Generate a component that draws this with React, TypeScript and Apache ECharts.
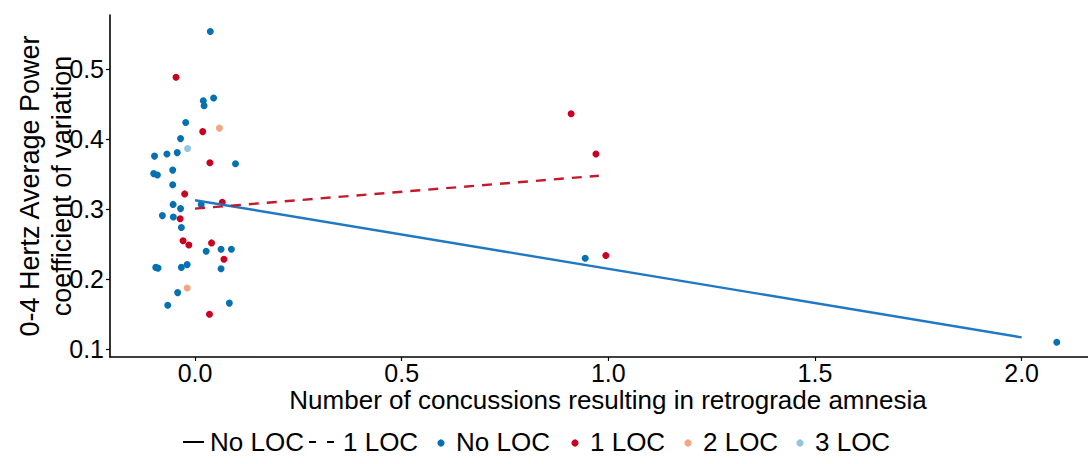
import React, { useEffect, useRef } from "react";
import * as echarts from "echarts";

// Scatter points: [concussions with retrograde amnesia (jittered), 0-4 Hz power CV]
const noLocPoints: [number, number][] = [
  [0.037, 0.554], [0.02, 0.455], [0.045, 0.459], [0.022, 0.448], [-0.0225, 0.424],
  [-0.035, 0.401], [-0.098, 0.376], [-0.068, 0.379], [-0.043, 0.381], [0.098, 0.365],
  [-0.054, 0.356], [-0.1, 0.351], [-0.091, 0.349], [-0.054, 0.335], [-0.053, 0.307],
  [-0.035, 0.301], [-0.079, 0.291], [-0.0525, 0.289], [-0.033, 0.274], [0.015, 0.307],
  [0.027, 0.24], [0.063, 0.243], [0.088, 0.243], [-0.095, 0.217], [-0.0895, 0.216],
  [-0.033, 0.217], [-0.019, 0.221], [0.063, 0.215], [-0.042, 0.181], [-0.066, 0.163],
  [0.083, 0.166], [0.944, 0.23], [2.085, 0.11],
];
const oneLocPoints: [number, number][] = [
  [-0.046, 0.4886], [0.0186, 0.411], [0.036, 0.3666], [-0.025, 0.322], [-0.036, 0.2866],
  [0.066, 0.31], [-0.029, 0.255], [-0.015, 0.249], [0.04, 0.252], [0.07, 0.2286],
  [0.035, 0.15], [0.91, 0.4366], [0.97, 0.379], [0.994, 0.234],
];
const twoLocPoints: [number, number][] = [
  [0.059, 0.416], [-0.019, 0.1876],
];
const threeLocPoints: [number, number][] = [
  [-0.018, 0.387],
];

// Linear fits per LOC group
const noLocFit: [number, number][] = [[0, 0.313], [2, 0.117]];
const oneLocFit: [number, number][] = [[0, 0.301], [0.977, 0.348]];

const xTicks = [0, 0.5, 1, 1.5, 2];
const yTicks = [0.1, 0.2, 0.3, 0.4, 0.5];

const C_NO = "#0571b0";
const C_ONE = "#ca0020";
const C_TWO = "#f4a582";
const C_THREE = "#92c5de";
const FONT = "Liberation Sans, Arial, sans-serif";

export default function App() {
  const ref = useRef<HTMLDivElement>(null);

  useEffect(() => {
    if (!ref.current) return;
    const chart = echarts.init(ref.current, null, { renderer: "svg" });

    const axisCommon = {
      type: "value" as const,
      splitLine: { show: false },
      axisLine: { show: true, onZero: false, lineStyle: { color: "#000", width: 1.6 } },
      axisTick: { show: true, length: 4, lineStyle: { color: "#000", width: 1.2 } },
    };

    const scatter = (name: string, data: [number, number][], color: string) => ({
      name,
      type: "scatter",
      data,
      symbolSize: 7,
      itemStyle: { color, opacity: 1 },
      z: 2,
    });

    const legendY = 442;
    const legendText = (x: number, text: string) => ({
      type: "text",
      x,
      y: legendY,
      style: {
        text,
        fontSize: 26,
        lineHeight: 26,
        fontFamily: FONT,
        fill: "#000",
        align: "left",
        verticalAlign: "middle",
      },
    });
    const legendDot = (x: number, color: string) => ({
      type: "circle",
      shape: { cx: x, cy: legendY + 1, r: 3.6 },
      style: { fill: color },
    });

    chart.setOption({
      animation: false,
      backgroundColor: "#fff",
      grid: { left: 110, right: 0, top: 15, bottom: 107, containLabel: false },
      xAxis: {
        ...axisCommon,
        min: -0.2057,
        max: 2.1606,
        axisTick: { ...axisCommon.axisTick, customValues: xTicks },
        axisLabel: {
          customValues: xTicks,
          formatter: (v: number) => v.toFixed(1),
          fontSize: 25,
          lineHeight: 22,
          fontFamily: FONT,
          color: "#000",
          margin: 5,
        },
      },
      yAxis: {
        ...axisCommon,
        min: 0.089,
        max: 0.5776,
        axisTick: { ...axisCommon.axisTick, customValues: yTicks },
        axisLabel: {
          customValues: yTicks,
          formatter: (v: number) => v.toFixed(1),
          fontSize: 25,
          fontFamily: FONT,
          color: "#000",
          margin: 6,
        },
      },
      series: [
        scatter("No LOC", noLocPoints, C_NO),
        scatter("1 LOC", oneLocPoints, C_ONE),
        scatter("2 LOC", twoLocPoints, C_TWO),
        scatter("3 LOC", threeLocPoints, C_THREE),
        {
          name: "No LOC fit",
          type: "line",
          data: noLocFit,
          showSymbol: false,
          lineStyle: { color: "#1f78c4", width: 2.4 },
          z: 3,
        },
        {
          name: "1 LOC fit",
          type: "line",
          data: oneLocFit,
          showSymbol: false,
          lineStyle: { color: "#c41a2e", width: 2.4, type: [10, 8] },
          z: 3,
        },
      ],
      graphic: [
        {
          type: "text",
          x: 608,
          y: 400,
          style: {
            text: "Number of concussions resulting in retrograde amnesia",
            fontSize: 26,
            lineHeight: 22,
            fontFamily: FONT,
            fill: "#000",
            align: "center",
            verticalAlign: "middle",
          },
        },
        {
          type: "text",
          x: 46,
          y: 186,
          rotation: Math.PI / 2,
          style: {
            text: "0-4 Hertz Average Power\ncoefficient of variation",
            fontSize: 27,
            lineHeight: 32,
            fontFamily: FONT,
            fill: "#000",
            align: "center",
            verticalAlign: "middle",
          },
        },
        // line-type legend
        {
          type: "line",
          shape: { x1: 183, y1: legendY, x2: 204, y2: legendY },
          style: { stroke: "#000", lineWidth: 2 },
        },
        legendText(210, "No LOC"),
        {
          type: "line",
          shape: { x1: 309, y1: legendY, x2: 334, y2: legendY },
          style: { stroke: "#000", lineWidth: 2, lineDash: [7, 11] },
        },
        legendText(343, "1 LOC"),
        // point legend
        legendDot(441, C_NO),
        legendText(456, "No LOC"),
        legendDot(575, C_ONE),
        legendText(590, "1 LOC"),
        legendDot(688, C_TWO),
        legendText(703, "2 LOC"),
        legendDot(800, C_THREE),
        legendText(815, "3 LOC"),
      ],
    });

    return () => chart.dispose();
  }, []);

  return (
    <div
      ref={ref}
      style={{ position: "fixed", left: 0, top: 0, width: 1088, height: 464, background: "#fff" }}
    />
  );
}
